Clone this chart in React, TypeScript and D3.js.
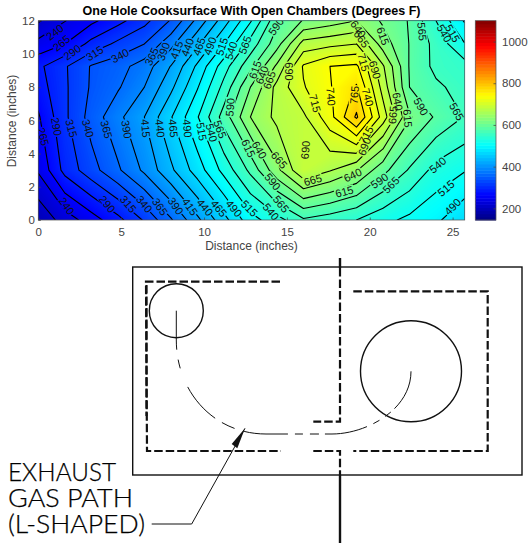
import { useEffect, useRef } from "react";
import * as d3 from "d3";

// measurement grid, inches
const xInches = [0, 1.6, 3.2, 4.8, 6.4, 8, 9.6, 11.2, 12.8, 14.4, 16, 17.6, 19.2, 20.8, 22.4, 24, 25.7];
const yInches = [0, 3, 6.2, 8, 9.25, 10.6, 12];

// temperatures (deg F), bottom row first
const row0 = [195, 226, 253, 282, 318, 362, 409, 456, 505, 530, 561, 551, 540, 522, 509, 495, 470];
const row3 = [243, 298, 330, 361, 395, 435, 477, 523, 571, 633, 687, 667, 642, 598, 562, 531, 517];
const row6 = [262, 310, 350, 383, 415, 463, 513, 576, 640, 672, 685, 731, 794, 703, 618, 586, 564];
const row8 = [278, 311, 343, 362, 390, 434, 488, 548, 615, 673, 713, 738, 768, 680, 590, 570, 555];
const row9 = [284, 312, 342, 355, 377, 416, 470, 529, 583, 645, 718, 740, 745, 668, 588, 558, 551];
const row10 = [248, 265, 298, 321, 340, 382, 435, 490, 550, 605, 675, 683, 690, 628, 589, 557, 517];
const row12 = [212, 239, 259, 282, 307, 342, 397, 453, 512, 584, 617, 628, 640, 611, 588, 540, 488];
const temps = [row0, row3, row6, row8, row9, row10, row12];

const levels = d3.range(215, 800, 25);
const xTicks = [0, 5, 10, 15, 20, 25];
const yTicks = [0, 2, 4, 6, 8, 10, 12];
const barTicks = [200, 400, 600, 800, 1000];
const barDomain = [144, 1100];

// [value, x inch, y inch, angle]
const contourLabels: [number, number, number, number][] = [
  [240, 1.0, 11.3, -38], [265, 1.4, 10.65, -38], [290, 2.05, 10.1, -35], [315, 3.4, 10.04, -32],
  [340, 4.93, 9.9, -28], [365, 6.84, 9.84, -65], [390, 7.55, 10.14, -70], [415, 8.35, 10.24, -70],
  [440, 9.0, 10.4, -70], [465, 9.7, 10.44, -70], [490, 10.36, 10.48, -70], [515, 11.07, 10.44, -72],
  [540, 11.63, 10.2, -72], [565, 12.47, 10.54, -70], [615, 13.08, 9.04, -70], [640, 13.5, 8.73, -70],
  [590, 11.57, 6.79, -85],
  [265, 0.3, 5.02, 75], [290, 1.1, 5.62, 80], [315, 2.0, 5.52, 75], [340, 3.0, 5.52, 75],
  [365, 4.12, 5.46, 75], [390, 5.33, 5.46, 80], [415, 6.48, 5.52, 85], [440, 7.35, 5.52, 85],
  [465, 8.15, 5.52, 85], [490, 9.0, 5.52, 85], [515, 9.86, 5.32, 80], [540, 10.46, 5.26, 75],
  [565, 10.97, 5.46, 70], [615, 12.68, 4.32, 65], [640, 13.34, 4.22, 60],
  [240, 1.71, 0.84, 55], [290, 4.16, 0.96, 50], [315, 5.43, 0.96, 50], [340, 6.4, 0.96, 50],
  [365, 7.34, 0.8, 55], [390, 8.29, 0.84, 55], [415, 9.15, 0.8, 55], [440, 10.06, 0.76, 50],
  [465, 10.9, 0.7, 50], [490, 11.81, 0.7, 50], [515, 12.74, 0.7, 45],
  [590, 14.34, 11.65, -55], [665, 13.94, 8.43, -70], [690, 15.15, 8.94, 90], [715, 16.7, 7.03, 75],
  [740, 17.66, 7.43, 85], [765, 19.07, 7.53, -85], [740, 19.88, 7.39, 75], [690, 16.11, 4.22, -85],
  [665, 14.54, 3.61, 50], [590, 14.14, 2.31, 50], [565, 14.65, 0.96, 50], [540, 14.04, 0.5, 50],
  [665, 16.56, 2.41, -15], [615, 18.47, 1.71, -15], [640, 18.97, 2.71, -25], [590, 20.58, 2.37, -35],
  [565, 21.28, 2.11, -45], [540, 24.1, 3.31, -40], [515, 24.6, 1.91, -40], [490, 25.0, 0.8, -45],
  [565, 25.25, 6.53, 60], [590, 23.09, 6.83, 60], [615, 22.29, 6.12, 85], [640, 21.69, 7.13, 80],
  [665, 21.39, 6.33, -85], [690, 20.32, 9.04, 75], [715, 19.62, 9.5, 75], [690, 19.68, 4.42, -70],
  [715, 19.78, 5.12, -60], [615, 20.8, 11.08, 70], [640, 19.3, 11.5, 55], [665, 19.5, 10.9, 55],
  [565, 23.16, 11.34, 85], [540, 24.5, 11.24, 60], [515, 25.0, 11.24, 60],
];

const FONT = "'Liberation Sans', Arial, sans-serif";
const jet = d3.scaleLinear<string>()
  .domain([0, 0.125, 0.375, 0.625, 0.875, 1])
  .range(["#000080", "#0000ff", "#00ffff", "#ffff00", "#ff0000", "#800000"])
  .clamp(true);

const App = () => {
  const ref = useRef<SVGSVGElement>(null);

  useEffect(() => {
    const svg = d3.select(ref.current);
    svg.selectAll("*").remove();
    const left = 38.3, top = 20.7, bottom = 220, right = 464.7;

    const x = d3.scaleLinear().domain([0, 25.73]).range([left, right]);
    const y = d3.scaleLinear().domain([0, 12]).range([bottom, top]);
    const colorT = d3.scaleLinear().domain(barDomain).range([0, 1]);
    const color = (v: number) => jet(colorT(v));

    // grid coordinates of d3.contours -> pixels
    const gx = d3.scaleLinear().domain(xInches.map((_, i) => i + 0.5)).range(xInches.map(v => x(v))).clamp(true);
    const gy = d3.scaleLinear().domain(yInches.map((_, i) => i + 0.5)).range(yInches.map(v => y(v))).clamp(true);
    const nx = xInches.length, ny = yInches.length;
    const flat = temps.flat();
    const contours = d3.contours().size([nx, ny]);

    const defs = svg.append("defs");
    const clip = defs.append("clipPath").attr("id", "plot");
    clip.append("rect").attr("x", left).attr("y", top).attr("width", right - left).attr("height", bottom - top);

    const plot = svg.append("g").attr("clip-path", "url(#plot)");
    plot.append("rect").attr("x", left).attr("y", top).attr("width", right - left).attr("height", bottom - top)
      .attr("fill", color(d3.min(flat)!));

    const ringsToPath = (coords: number[][][][]) => {
      let d = "";
      coords.forEach(poly => poly.forEach(ring => {
        ring.forEach((p, i) => {
          d += (i ? "L" : "M") + gx(p[0]).toFixed(2) + "," + gy(p[1]).toFixed(2);
        });
        d += "Z";
      }));
      return d;
    };

    // filled bands
    d3.range(190, 800, 3).forEach(t => {
      const c = contours.contour(flat, t);
      plot.append("path").attr("d", ringsToPath(c.coordinates as any)).attr("fill", color(t + 1.5));
    });

    // contour lines: skip segments running along the plot border
    const onEdge = (a: number[], b: number[]) =>
      (a[0] <= 0.5 && b[0] <= 0.5) || (a[0] >= nx - 0.5 && b[0] >= nx - 0.5) ||
      (a[1] <= 0.5 && b[1] <= 0.5) || (a[1] >= ny - 0.5 && b[1] >= ny - 0.5);

    const mask = defs.append("mask").attr("id", "gaps").attr("maskUnits", "userSpaceOnUse")
      .attr("x", 0).attr("y", 0).attr("width", 532).attr("height", 250);
    mask.append("rect").attr("width", 532).attr("height", 250).attr("fill", "white");
    contourLabels.forEach(([, lx, ly, a]) => {
      mask.append("rect").attr("x", -10).attr("y", -5).attr("width", 20).attr("height", 10).attr("fill", "black")
        .attr("transform", `translate(${x(lx)},${y(ly)}) rotate(${a})`);
    });

    const lines = plot.append("g").attr("mask", "url(#gaps)");
    levels.forEach(level => {
      const c = contours.contour(flat, level);
      let d = "";
      (c.coordinates as any as number[][][][]).forEach(poly => poly.forEach(ring => {
        for (let i = 1; i < ring.length; i++) {
          const a = ring[i - 1], b = ring[i];
          if (onEdge(a, b)) continue;
          d += `M${gx(a[0]).toFixed(2)},${gy(a[1]).toFixed(2)}L${gx(b[0]).toFixed(2)},${gy(b[1]).toFixed(2)}`;
        }
      }));
      lines.append("path").attr("d", d).attr("fill", "none").attr("stroke", "#000").attr("stroke-width", 1.1)
        .attr("stroke-linecap", "round");
    });

    plot.selectAll(".clabel").data(contourLabels).enter().append("text")
      .attr("class", "clabel")
      .attr("transform", d => `translate(${x(d[1])},${y(d[2])}) rotate(${d[3]})`)
      .attr("text-anchor", "middle").attr("dy", "0.36em")
      .style("font-family", FONT).style("font-size", "11px").attr("fill", "#111")
      .text(d => d[0]);

    svg.append("rect").attr("x", left).attr("y", top).attr("width", right - left).attr("height", bottom - top)
      .attr("fill", "none").attr("stroke", "#555").attr("stroke-width", 0.75);

    const styleAxis = (g: any) => {
      g.select(".domain").remove();
      g.selectAll("line").attr("stroke", "#444").attr("stroke-width", 0.75);
      g.selectAll("text").style("font-family", FONT).style("font-size", "11.5px").attr("fill", "#444");
    };

    svg.append("g").attr("transform", `translate(0,${bottom})`)
      .call(d3.axisBottom(x).tickValues(xTicks).tickFormat(d3.format("d") as any).tickSizeInner(-2.5).tickSizeOuter(0).tickPadding(8))
      .call(styleAxis);
    svg.append("g").attr("transform", `translate(${left},0)`)
      .call(d3.axisLeft(y).tickValues(yTicks).tickFormat(d3.format("d") as any).tickSizeInner(-2.5).tickSizeOuter(0).tickPadding(3.5))
      .call(styleAxis);

    svg.append("text").attr("x", 251.5).attr("y", 15).attr("text-anchor", "middle")
      .style("font-family", FONT).style("font-size", "12.55px").style("font-weight", "bold").attr("fill", "#000")
      .text("One Hole Cooksurface With Open Chambers (Degrees F)");
    svg.append("text").attr("x", 251.5).attr("y", 250).attr("text-anchor", "middle")
      .style("font-family", FONT).style("font-size", "12px").attr("fill", "#444").text("Distance (inches)");
    svg.append("text").attr("transform", "translate(16,121) rotate(-90)").attr("text-anchor", "middle")
      .style("font-family", FONT).style("font-size", "12px").attr("fill", "#444").text("Distance (inches)");

    // colour bar
    const barLeft = 475.3, barRight = 496;
    const barY = d3.scaleLinear().domain(barDomain).range([bottom, top]);
    const steps = d3.range(64);
    const step = (barDomain[1] - barDomain[0]) / 64;
    svg.append("g").selectAll("rect").data(steps).enter().append("rect")
      .attr("x", barLeft).attr("width", barRight - barLeft)
      .attr("y", i => barY(barDomain[0] + (i + 1) * step))
      .attr("height", (bottom - top) / 64 + 0.5)
      .attr("fill", i => color(barDomain[0] + (i + 0.5) * step));
    svg.append("rect").attr("x", barLeft).attr("y", top).attr("width", barRight - barLeft).attr("height", bottom - top)
      .attr("fill", "none").attr("stroke", "#555").attr("stroke-width", 0.75);
    svg.append("g").attr("transform", `translate(${barRight},0)`)
      .call(d3.axisRight(barY).tickValues(barTicks).tickFormat(d3.format("d") as any).tickSizeInner(-2.5).tickSizeOuter(0).tickPadding(6))
      .call(styleAxis);

    // exhaust path diagram
    const sketch = svg.append("g").attr("fill", "none").attr("stroke", "#111");
    sketch.append("rect").attr("x", 132.7).attr("y", 267).attr("width", 389.3).attr("height", 208).attr("stroke-width", 1.4);
    sketch.append("circle").attr("cx", 176.3).attr("cy", 310.7).attr("r", 27).attr("stroke-width", 1.4);
    sketch.append("circle").attr("cx", 411).attr("cy", 371.3).attr("r", 50.5).attr("stroke-width", 1.4);

    const chamber = d3.line();
    const thick = (pts: [number, number][]) =>
      sketch.append("path").attr("d", chamber(pts)).attr("stroke-width", 2.2).attr("stroke-dasharray", "8.5 3");
    thick([[280, 281.7], [146, 281.7], [147, 451], [281, 451]]);
    thick([[146.5, 285], [146.5, 416]]);
    thick([[340, 268], [340, 421.7], [313.3, 421.7]]);
    thick([[313.3, 451], [340, 451], [340, 475]]);
    thick([[353.3, 291.3], [487.7, 291.3], [487.7, 451], [353.3, 451]]);
    sketch.append("line").attr("x1", 340).attr("x2", 340).attr("y1", 258).attr("y2", 268).attr("stroke-width", 2.4);
    sketch.append("line").attr("x1", 340).attr("x2", 340).attr("y1", 475).attr("y2", 543).attr("stroke-width", 2.4);

    sketch.append("path")
      .attr("d", "M176.3,310.7 L176.3,340 C176.3,392 214,434 266,434 L332,434 C366,434 411,410 411,371.3")
      .attr("stroke-width", 1)
      .attr("stroke-dasharray", "39 10 9 20 42 8 14 10 44 7 8 7 9 6 43 7 7 7 7 5 60");

    sketch.append("path").attr("d", "M151.7,524 L191.7,524 L245,428.3").attr("stroke-width", 1);
    svg.append("path").attr("d", "M245,428.3 L231.7,444 L237.3,448.3 Z").attr("fill", "#111");

    const exhaust = [["EXHAUST", 480.7, 108], ["GAS PATH", 506.7, 125], ["(L-SHAPED)", 533.3, 137]] as const;
    exhaust.forEach(([t, by, w]) => {
      svg.append("text").attr("x", 8).attr("y", by).attr("textLength", w).attr("lengthAdjust", "spacingAndGlyphs")
        .style("font-family", "Lato, sans-serif").style("font-weight", 300).style("font-size", "25px")
        .attr("fill", "#000").attr("stroke", "#000").attr("stroke-width", 0.25)
        .text(t);
    });
  }, []);

  return <svg ref={ref} width={532} height={550} style={{ position: "absolute", left: 0, top: 0 }} />;
};

export default App;
